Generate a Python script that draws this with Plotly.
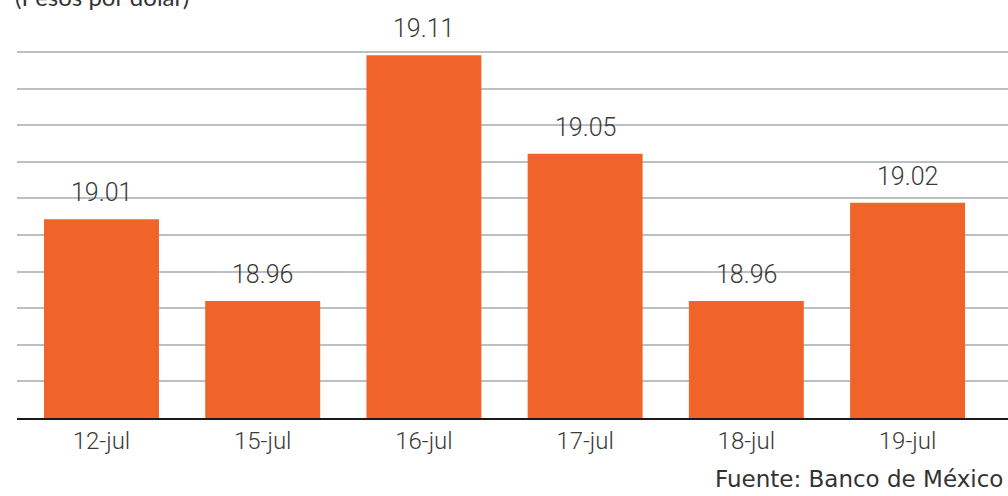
import plotly.graph_objects as go

categories = ["12-jul", "15-jul", "16-jul", "17-jul", "18-jul", "19-jul"]
values = [19.01, 18.96, 19.11, 19.05, 18.96, 19.02]
value_labels = ["19.01", "18.96", "19.11", "19.05", "18.96", "19.02"]
title_text = "(Pesos por dólar)"
source_text = "Fuente: Banco de México"

BAR = "#f0642a"
NARROW = "Roboto, sans-serif"

fig = go.Figure()
fig.add_trace(go.Bar(
    x=list(range(len(categories))), y=values,
    marker=dict(color=BAR, line=dict(width=0)),
    hoverinfo="skip",
))

annotations = []
for i, (v, t) in enumerate(zip(values, value_labels)):
    annotations.append(dict(
        x=i, y=v, xref="x", yref="y", text=t, showarrow=False,
        yanchor="bottom", yshift=10,
        font=dict(family=NARROW, size=25, color="#3a3a3a", weight=300),
    ))
annotations.append(dict(
    x=0, y=1, xref="paper", yref="paper", text=title_text, showarrow=False,
    xanchor="left", yanchor="bottom", yshift=7, xshift=-4,
    font=dict(family="Lato, sans-serif", size=24, color="#333333"),
))
annotations.append(dict(
    x=(713 - 17) / 991.0, y=0, xref="paper", yref="paper", text=source_text,
    showarrow=False, xanchor="left", yanchor="top", yshift=-46,
    font=dict(family="DejaVu Sans, sans-serif", size=23, color="#333333"),
))

fig.update_layout(
    annotations=annotations,
    width=1008, height=496,
    margin=dict(l=17, r=0, t=20, b=78),
    paper_bgcolor="white", plot_bgcolor="white",
    bargap=0.287,
    showlegend=False,
    xaxis=dict(
        range=[-0.524, 5.623],
        tickmode="array", tickvals=list(range(len(categories))), ticktext=categories,
        showgrid=False, zeroline=False,
        showline=True, linecolor="#1a1a1a", linewidth=2,
        ticks="", tickfont=dict(family=NARROW, size=24, color="#3a3a3a", weight=300),
        fixedrange=True,
    ),
    yaxis=dict(
        range=[18.8886, 18.8886 + 398 / 1638],
        tick0=18.8886, dtick=0.02234,
        showgrid=True, gridcolor="#b9c0c6", gridwidth=1.6,
        showticklabels=False, zeroline=False, showline=False, ticks="",
        fixedrange=True,
    ),
)

fig.write_html(
    "out.html",
    config={"displayModeBar": False},
    post_script="document.body.style.margin='0';document.body.style.overflow='hidden';",
)
